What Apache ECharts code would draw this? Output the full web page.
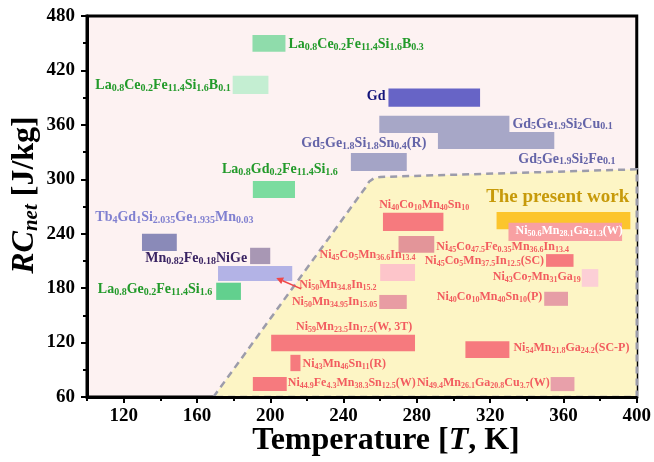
<!DOCTYPE html>
<html><head><meta charset="utf-8">
<script src="https://cdn.jsdelivr.net/npm/echarts@6/dist/echarts.min.js"></script>
<style>html,body{margin:0;padding:0;background:#fff}#c{width:654px;height:462px}</style>
</head><body><div id="c"></div>
<script>
// ---------------- data ----------------
const materials = [
  'La_{0.8}Ce_{0.2}Fe_{11.4}Si_{1.6}B_{0.3}',
  'La_{0.8}Ce_{0.2}Fe_{11.4}Si_{1.6}B_{0.1}',
  'Gd',
  'Gd_{5}Ge_{1.9}Si_{2}Cu_{0.1}',
  'Gd_{5}Ge_{1.9}Si_{2}Fe_{0.1}',
  'Gd_{5}Ge_{1.8}Si_{1.8}Sn_{0.4}(R)',
  'La_{0.8}Gd_{0.2}Fe_{11.4}Si_{1.6}',
  'Tb_{4}Gd_{1}Si_{2.035}Ge_{1.935}Mn_{0.03}',
  'Mn_{0.82}Fe_{0.18}NiGe',
  'Ni_{50}Mn_{34.8}In_{15.2}',
  'La_{0.8}Ge_{0.2}Fe_{11.4}Si_{1.6}',
  'Ni_{40}Co_{10}Mn_{40}Sn_{10}',
  'The present work',
  'Ni_{50.6}Mn_{28.1}Ga_{21.3}(W)',
  'Ni_{45}Co_{47.5}Fe_{0.35}Mn_{36.6}In_{13.4}',
  'Ni_{45}Co_{5}Mn_{37.5}In_{12.5}(SC)',
  'Ni_{45}Co_{5}Mn_{36.6}In_{13.4}',
  'Ni_{43}Co_{7}Mn_{31}Ga_{19}',
  'Ni_{40}Co_{10}Mn_{40}Sn_{10}(P)',
  'Ni_{50}Mn_{34.95}In_{15.05}',
  'Ni_{59}Mn_{23.5}In_{17.5}(W, 3T)',
  'Ni_{43}Mn_{46}Sn_{11}(R)',
  'Ni_{44.9}Fe_{4.3}Mn_{38.3}Sn_{12.5}(W)',
  'Ni_{54}Mn_{21.8}Ga_{24.2}(SC-P)',
  'Ni_{49.4}Mn_{26.1}Ga_{20.8}Cu_{3.7}(W)'
];
const tLow  = [190.3,179.5,264.5,259.5,291.5,244.0,190.5,130.0,189.0,171.5,170.5,261.5,323.5,330.0,270.0,350.5,260.0,370.0,349.5,259.5,200.5,211.0,190.5,306.5,353.0];
const tHigh = [208.3,199.0,314.5,330.5,355.0,274.5,213.5,149.0,200.0,212.0,184.0,294.5,396.5,392.0,289.5,365.5,279.0,379.0,362.5,274.5,279.0,216.5,209.0,330.5,366.0];
const rcLow = [440.5,394.0,380.0,351.0,333.5,309.0,279.5,221.0,206.5,188.0,167.0,243.0,245.0,232.0,219.0,203.5,188.0,181.5,160.5,157.0,110.5, 88.5, 66.5,103.0, 66.5];
const rcHigh= [459.0,414.0,400.0,370.0,352.0,329.0,298.0,240.0,224.5,204.5,186.0,263.0,264.0,252.0,237.5,217.5,206.5,201.0,176.0,172.5,128.5,106.5, 82.0,121.5, 82.0];

const xTicks = [120,160,200,240,280,320,360,400];
const xMinorTicks = [100,140,180,220,260,300,340,380];

// highlighted region (yellow) outline
const regionT  = [169.0,252.0,254.0,256.5,260.0,400.0,400.0];
const regionRC = [ 60.0,291.0,297.5,301.0,302.6,311.0, 60.0];

// ---------------- styles ----------------
const FF = '"Liberation Serif","Times New Roman",serif';
const G='#229a2a', B='#6464a8', R='#f25c5f';
const barStyles = [
  {bar:'#8fdcab',txt:G,size:'big'},
  {bar:'#c4eed2',txt:G,size:'big'},
  {bar:'#6764c6',txt:'#14147a',size:'big'},
  {bar:'#a7a7c7',txt:B,size:'big'},
  {bar:'#a7a7c7',txt:B,size:'big'},
  {bar:'#a4a4c6',txt:B,size:'big'},
  {bar:'#7bdc9f',txt:G,size:'big'},
  {bar:'#8a8ab8',txt:'#8080d0',size:'big'},
  {bar:'#a897b4',txt:'#3a2463',size:'big'},
  {bar:'#b3b3e6',txt:R,size:'red'},
  {bar:'#62d08e',txt:G,size:'big'},
  {bar:'#f67a7e',txt:R,size:'red'},
  {bar:'#fcc52c',txt:'#c79a0a',size:'present'},
  {bar:'#f8a0a2',txt:'#ffffff',size:'red'},
  {bar:'#e39599',txt:R,size:'red'},
  {bar:'#f67a7e',txt:R,size:'red'},
  {bar:'#fdc5ca',txt:R,size:'red'},
  {bar:'#fccfd6',txt:R,size:'red'},
  {bar:'#e69ea6',txt:R,size:'red'},
  {bar:'#e89ca3',txt:R,size:'red'},
  {bar:'#f67a7e',txt:R,size:'red'},
  {bar:'#f67a7e',txt:R,size:'red'},
  {bar:'#f67a7e',txt:R,size:'red'},
  {bar:'#f67a7e',txt:R,size:'red'},
  {bar:'#e8a0aa',txt:R,size:'red'}
];
// label placement relative to each bar: ref = fraction of bar (x from left, y from bottom), pixel offsets
const labelLayout = [
  {ref:[1,0.5],dx:3,dy:0.5,align:'left'},
  {ref:[0,0.5],dx:-2,dy:0,align:'right'},
  {ref:[0,0.5],dx:-3,dy:-1,align:'right'},
  {ref:[1,0.5],dx:3,dy:-0.5,align:'left'},
  {ref:[1,0],dx:-36,dy:10,align:'left'},
  {ref:[0.5,1],dx:-15,dy:-10,align:'center'},
  {ref:[0.5,1],dx:6,dy:-12,align:'center'},
  {ref:[0.5,1],dx:15,dy:-16,align:'center'},
  {ref:[0,0.5],dx:-3,dy:2,align:'right'},
  {ref:[1,0],dx:7,dy:4,align:'left',arrow:{from:[9,8],to:[-16,-3]}},
  {ref:[0,0.5],dx:-4,dy:-2,align:'right'},
  {ref:[0.5,1],dx:11,dy:-8,align:'center'},
  {ref:[1,1],dx:-1,dy:-15,align:'right'},
  {ref:[0,0.5],dx:7,dy:-1,align:'left'},
  {ref:[1,0.5],dx:2,dy:2.5,align:'left'},
  {ref:[0,0.5],dx:-2,dy:0.5,align:'right'},
  {ref:[0.5,1],dx:-30,dy:-9,align:'center'},
  {ref:[0,0.5],dx:-1,dy:-1,align:'right'},
  {ref:[0,0.5],dx:-2,dy:-2,align:'right'},
  {ref:[0,0.5],dx:-2,dy:0,align:'right'},
  {ref:[0.5,1],dx:11,dy:-8,align:'center'},
  {ref:[1,0.5],dx:2,dy:1,align:'left'},
  {ref:[1,0.5],dx:1,dy:-1,align:'left'},
  {ref:[1,0.5],dx:4,dy:-2,align:'left'},
  {ref:[0,0.5],dx:-1,dy:-1,align:'right'}
];
const SIZES = {big:[14,10,16], red:[12,8,14], present:[19,19,20]};

function toRich(s){
  let out='', re=/_\{([^}]*)\}/g, last=0, m;
  while((m=re.exec(s))){
    if(m.index>last) out+='{n|'+s.slice(last,m.index)+'}';
    out+='{s|'+m[1]+'}';
    last=re.lastIndex;
  }
  if(last<s.length) out+='{n|'+s.slice(last)+'}';
  return out;
}
function makeRich(st){
  const sz=SIZES[st.size];
  return {
    n:{fontFamily:FF,fontWeight:'bold',fontSize:sz[0],lineHeight:sz[2],fill:st.txt,verticalAlign:'middle'},
    s:{fontFamily:FF,fontWeight:'bold',fontSize:sz[1],lineHeight:Math.round(sz[1]*0.75),fill:st.txt,verticalAlign:'bottom'}
  };
}

const barData = materials.map((_,i)=>[tLow[i],tHigh[i],rcLow[i],rcHigh[i],i]);

function renderBar(params, api){
  const i = api.value(4);
  const p0 = api.coord([api.value(0), api.value(3)]);
  const p1 = api.coord([api.value(1), api.value(2)]);
  const st = barStyles[i], lay = labelLayout[i];
  const tx = p0[0] + (p1[0]-p0[0])*lay.ref[0] + lay.dx;
  const ty = p1[1] + (p0[1]-p1[1])*lay.ref[1] + lay.dy;
  const children = [
    {type:'rect', shape:{x:p0[0],y:p0[1],width:p1[0]-p0[0],height:p1[1]-p0[1]}, style:{fill:st.bar}},
    {type:'text', x:tx, y:ty, z2:5, style:{text:toRich(materials[i]), rich:makeRich(st), align:lay.align, verticalAlign:'middle', legacy:false}}
  ];
  if(lay.arrow){
    const a=[p1[0]+lay.arrow.from[0], p1[1]+lay.arrow.from[1]];
    const b=[p1[0]+lay.arrow.to[0], p1[1]+lay.arrow.to[1]];
    const dx=b[0]-a[0], dy=b[1]-a[1], L=Math.hypot(dx,dy), ux=dx/L, uy=dy/L;
    const hl=7, hw=3.5;
    const base=[b[0]-ux*hl, b[1]-uy*hl];
    children.push({type:'line', shape:{x1:a[0],y1:a[1],x2:base[0],y2:base[1]}, style:{stroke:'#f04848',lineWidth:1.5}});
    children.push({type:'polygon', shape:{points:[b,[base[0]-uy*hw,base[1]+ux*hw],[base[0]+uy*hw,base[1]-ux*hw]]}, style:{fill:'#f04848'}});
  }
  return {type:'group', children};
}

function renderRegion(params, api){
  const pts = regionT.map((t,k)=>api.coord([t, regionRC[k]]));
  return {type:'group', children:[
    {type:'polygon', shape:{points:pts}, style:{fill:'#fdf5c5'}},
    {type:'polygon', shape:{points:pts}, style:{fill:'none', stroke:'#9c9cab', lineWidth:2.5, lineDash:[7,5]}}
  ]};
}

const chart = echarts.init(document.getElementById('c'), null, {renderer:'canvas'});
const tickLabel = {fontFamily:FF, fontWeight:'bold', fontSize:19, color:'#000'};
chart.setOption({
  animation:false,
  grid:{left:87,right:17,top:16,bottom:65,show:true,backgroundColor:'#fdf2f2',borderColor:'#000',borderWidth:3},
  xAxis:[
    {type:'value',min:100,max:400,z:10,
     axisLine:{show:true,onZero:false,lineStyle:{color:'#000',width:3}},
     axisTick:{show:true,customValues:xTicks,length:6,lineStyle:{color:'#000',width:2}},
     axisLabel:Object.assign({customValues:xTicks,margin:10},tickLabel),
     splitLine:{show:false}},
    {type:'value',min:100,max:400,position:'bottom',z:10,
     axisLine:{show:false},
     axisTick:{show:true,customValues:xMinorTicks,length:4,lineStyle:{color:'#000',width:2}},
     axisLabel:{show:false},splitLine:{show:false}}
  ],
  yAxis:{type:'value',min:60,max:480,interval:60,z:10,
    axisLine:{show:true,onZero:false,lineStyle:{color:'#000',width:3}},
    axisTick:{show:true,length:6,lineStyle:{color:'#000',width:2}},
    minorTick:{show:true,splitNumber:2,length:4,lineStyle:{color:'#000',width:2}},
    axisLabel:Object.assign({margin:12},tickLabel),
    splitLine:{show:false}},
  graphic:[
    {type:'text', x:386, y:441, style:{text:'{b|Temperature [}{i|T}{b|, K]}', align:'center', verticalAlign:'middle', legacy:false,
      rich:{b:{fontFamily:FF,fontWeight:'bold',fontSize:32,fill:'#000'}, i:{fontFamily:FF,fontWeight:'bold',fontStyle:'italic',fontSize:32,fill:'#000'}}}},
    {type:'text', x:25, y:195, rotation:Math.PI/2, style:{text:'{i|RC}{s|net}{b| [J/kg]}', align:'center', verticalAlign:'middle', legacy:false,
      rich:{b:{fontFamily:FF,fontWeight:'bold',fontSize:32,lineHeight:34,fill:'#000',verticalAlign:'middle'},
            i:{fontFamily:FF,fontWeight:'bold',fontStyle:'italic',fontSize:32,lineHeight:34,fill:'#000',verticalAlign:'middle'},
            s:{fontFamily:FF,fontWeight:'bold',fontStyle:'italic',fontSize:21,lineHeight:16,fill:'#000',verticalAlign:'bottom'}}}}
  ],
  series:[
    {type:'custom', xAxisIndex:0, z:1, silent:true, renderItem:renderRegion, data:[[regionT[0],regionRC[0]]], encode:{x:0,y:1}},
    {type:'custom', xAxisIndex:0, z:3, silent:true, renderItem:renderBar, data:barData, encode:{x:[0,1],y:[2,3]}}
  ]
});
</script></body></html>
